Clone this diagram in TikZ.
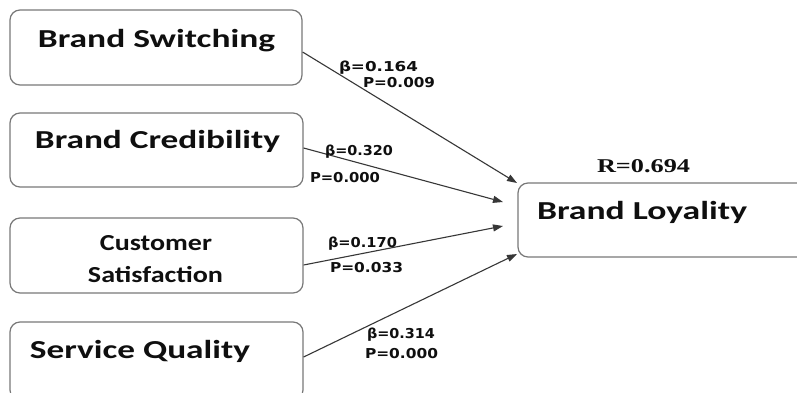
\documentclass[tikz,border=0pt]{standalone}
\usepackage{fontspec}
\usepackage{graphicx}
\setmainfont{Carlito}
\newfontfamily\labfont{DejaVu Sans}
\newfontfamily\rfont{Liberation Serif}
\usetikzlibrary{arrows.meta,calc}
\newcommand{\fitw}[2]{\resizebox{#1}{\height}{#2}}
\definecolor{boxgray}{RGB}{120,120,120}
\definecolor{linegray}{RGB}{55,55,55}
\definecolor{txt}{RGB}{15,15,15}
\begin{document}
\begin{tikzpicture}[x=1bp,y=-1bp,
  box/.style={draw=boxgray, line width=1.2bp, rounded corners=10bp, inner sep=0pt},
  btext/.style={anchor=base, inner sep=0pt, text=txt, font=\fontsize{26}{30}\selectfont\bfseries},
  stext/.style={anchor=base, inner sep=0pt, text=txt, font=\fontsize{23}{27}\selectfont\bfseries},
  lab/.style={anchor=base, inner sep=0pt, text=txt, font=\labfont\fontsize{13.7}{16}\selectfont\bfseries},
  rtext/.style={anchor=base, inner sep=0pt, text=txt, font=\rfont\fontsize{19.6}{23}\selectfont\bfseries},
  conn/.style={draw=linegray, line width=1.1bp, -{Triangle[length=10bp,width=7bp]}}]
\useasboundingbox (0,0) rectangle (797,392);
\clip (0,0) rectangle (797,392);
\fill[white] (0,0) rectangle (797,392);

% boxes
\node[box, minimum width=292bp, minimum height=75bp] (bs) at (156,47.5) {};
\node[box, minimum width=293bp, minimum height=74bp] (bc) at (156.5,150) {};
\node[box, minimum width=293bp, minimum height=75bp] (cs) at (156.5,255.5) {};
\node[box, minimum width=293bp, minimum height=78bp] (sq) at (156.5,361) {};
\node[box, minimum width=292bp, minimum height=74bp] (bl) at (664,220) {};

% box texts
\node[btext] (bs-t) at (156.5,47) {\fitw{237bp}{Brand Switching}};
\node[btext] (bc-t) at (157.5,148) {\fitw{245bp}{Brand Credibility}};
\node[stext] (cs-t1) at (156,250) {\fitw{112bp}{Customer}};
\node[stext] (cs-t2) at (155.5,282) {\fitw{135bp}{Satisfaction}};
\node[btext] (sq-t) at (140,358) {\fitw{220bp}{Service Quality}};
\node[btext] (bl-t) at (642,219) {\fitw{210bp}{Brand Loyality}};
\node[rtext] (r) at (643.5,172) {\fitw{93bp}{R=0.694}};

% arrow end points
\coordinate (t1) at (517,183);
\coordinate (t2) at (503,202);
\coordinate (t3) at (503,226);
\coordinate (t4) at (517,254);

\draw[conn] ($(bs.east)+(0,4.5)$) -- (t1);
\draw[conn] ($(bc.east)+(0,-2)$) -- (t2);
\draw[conn] ($(cs.east)+(0,9.5)$) -- (t3);
\draw[conn] ($(sq.east)+(0,-4)$) -- (t4);

% labels
\node[lab] (b1) at (378.5,71) {\fitw{79bp}{β=0.164}};
\node[lab] (p1) at (399,87) {\fitw{72bp}{P=0.009}};
\node[lab] (b2) at (359,155) {\fitw{68bp}{β=0.320}};
\node[lab] (p2) at (345,182) {\fitw{70bp}{P=0.000}};
\node[lab] (b3) at (362.5,247) {\fitw{69bp}{β=0.170}};
\node[lab] (p3) at (366.5,272) {\fitw{73bp}{P=0.033}};
\node[lab] (b4) at (401,338) {\fitw{68bp}{β=0.314}};
\node[lab] (p4) at (401.5,358) {\fitw{73bp}{P=0.000}};
\end{tikzpicture}
\end{document}
